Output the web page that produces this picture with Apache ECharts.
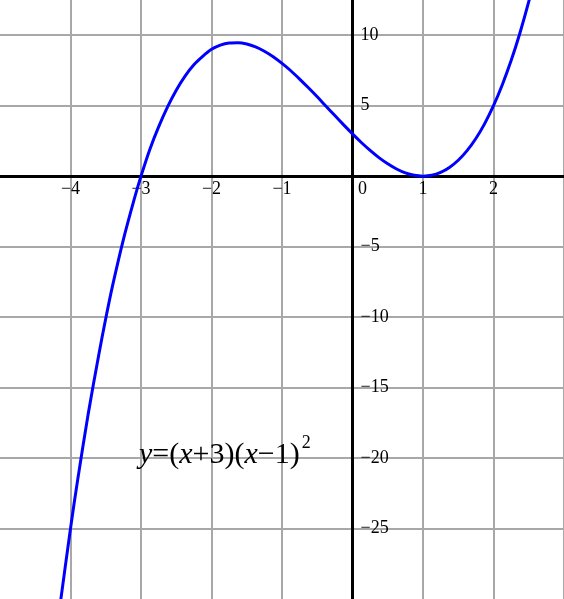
<!DOCTYPE html>
<html>
<head>
<meta charset="utf-8">
<script src="https://cdn.jsdelivr.net/npm/echarts@6/dist/echarts.min.js"></script>
<style>html,body{margin:0;padding:0;background:#fff}#c{width:564px;height:599px}</style>
</head>
<body>
<div id="c"></div>
<script>
// Curve points
const xValues = [-4.15, -4.0, -3.9, -3.75, -3.6, -3.5, -3.4, -3.25, -3.1, -3.0, -2.875, -2.75, -2.625, -2.5, -2.375, -2.25, -2.125, -2.0, -1.875, -1.75, -1.625, -1.5, -1.375, -1.25, -1.125, -1.0, -0.875, -0.75, -0.625, -0.5, -0.375, -0.25, -0.125, 0.0, 0.125, 0.25, 0.375, 0.5, 0.625, 0.75, 0.875, 1.0, 1.125, 1.25, 1.375, 1.5, 1.625, 1.75, 1.875, 2.0, 2.125, 2.25, 2.375, 2.5, 2.625];
const yValues = [-30.5, -25.0, -21.6, -16.9, -12.7, -10.1, -7.7, -4.5, -1.7, 0.0, 1.9, 3.5, 4.9, 6.1, 7.1, 7.9, 8.5, 9.0, 9.3, 9.45, 9.47, 9.38, 9.17, 8.86, 8.47, 8.0, 7.48, 6.89, 6.27, 5.63, 4.96, 4.30, 3.64, 3.0, 2.39, 1.83, 1.32, 0.88, 0.51, 0.23, 0.06, 0.0, 0.06, 0.27, 0.62, 1.13, 1.81, 2.67, 3.73, 5.0, 6.49, 8.2, 10.16, 12.38, 14.85];
const xTickLabels = [-4, -3, -2, -1, 0, 1, 2];
const yTickLabels = [10, 5, -5, -10, -15, -20, -25];

const FONT = 'Liberation Serif';
const fmt = v => (v < 0 ? '−' + Math.abs(v) : String(v));

const chart = echarts.init(document.getElementById('c'), null, {renderer: 'canvas'});
const option = {
  animation: false,
  backgroundColor: '#fff',
  grid: {left: 0, right: 0, top: 0, bottom: 0, containLabel: false, outerBoundsMode: 'none'},
  xAxis: {
    type: 'value', min: -5, max: 3, interval: 1, position: 'bottom', offset: 0,
    axisLine: {onZero: false, lineStyle: {color: '#000', width: 3}},
    axisTick: {show: false},
    splitLine: {show: true, showMinLine: false, showMaxLine: true, lineStyle: {color: '#a8a8a8', width: 2}},
    axisLabel: {
      margin: 4, fontFamily: FONT, fontSize: 18, color: '#000',
      showMinLabel: false, showMaxLabel: false,
      formatter: v => {
        if (!xTickLabels.includes(v)) return '';
        if (v === 0) return '{z|0}';
        return fmt(v);
      },
      rich: {z: {fontFamily: FONT, fontSize: 18, color: '#000', padding: [0, 0, 0, 20]}}
    }
  },
  yAxis: {
    type: 'value', min: -30, max: 12.5, interval: 5, position: 'left', offset: 0,
    axisLine: {onZero: false, lineStyle: {color: '#000', width: 3}},
    axisTick: {show: false},
    splitLine: {show: true, showMinLine: false, showMaxLine: false, lineStyle: {color: '#a8a8a8', width: 2}},
    axisLabel: {
      inside: true, margin: 8, fontFamily: FONT, fontSize: 18, color: '#000',
      showMinLabel: false, showMaxLabel: false,
      formatter: v => yTickLabels.includes(v) ? fmt(v) : ''
    }
  },
  series: [{
    type: 'line',
    data: xValues.map((x, i) => [x, yValues[i]]),
    smooth: 0.3,
    symbol: 'none',
    clip: true,
    z: 5,
    lineStyle: {color: '#0000ff', width: 3}
  }],
  graphic: [{
    type: 'text',
    left: 139, top: 434,
    z: 100,
    style: {
      text: '{i|y}{n|=(}{i|x}{n|+3)(}{i|x}{n|−1)}{s|2}',
      rich: {
        i: {fontFamily: FONT, fontStyle: 'italic', fontSize: 30, color: '#000', verticalAlign: 'bottom', lineHeight: 36},
        n: {fontFamily: FONT, fontSize: 30, color: '#000', verticalAlign: 'bottom', lineHeight: 36},
        s: {fontFamily: FONT, fontSize: 18, color: '#000', verticalAlign: 'top', lineHeight: 36, padding: [0, 0, 0, 2]}
      }
    }
  }]
};
chart.setOption(option);
// Move both axes onto the zero lines, using the library's own scale conversion
const origin = chart.convertToPixel({gridIndex: 0}, [0, 0]);
const gridRect = chart.getModel().getComponent('grid', 0).coordinateSystem.getRect();
chart.setOption({
  xAxis: {offset: origin[1] - (gridRect.y + gridRect.height)},
  yAxis: {offset: gridRect.x - origin[0]}
});
</script>
</body>
</html>
